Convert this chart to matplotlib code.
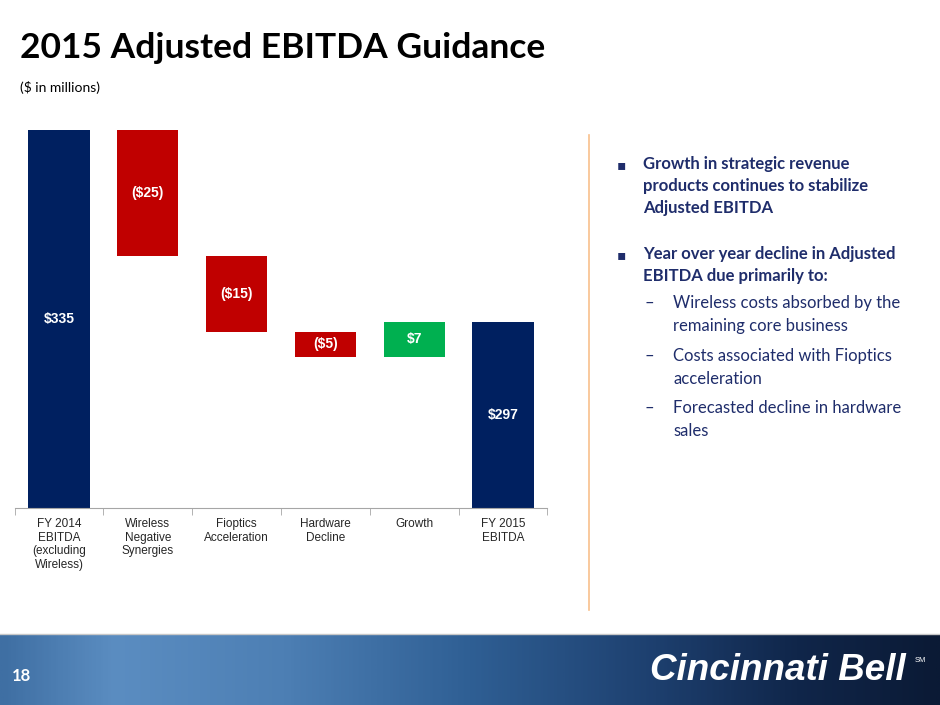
import matplotlib.pyplot as plt
import numpy as np
from matplotlib.colors import LinearSegmentedColormap
from matplotlib.lines import Line2D

# datos del grafico (millones de dolares)
categorias = ['FY 2014\nEBITDA\n(excluding\nWireless)', 'Wireless\nNegative\nSynergies',
              'Fioptics\nAcceleration', 'Hardware\nDecline', 'Growth', 'FY 2015\nEBITDA']
valores = [335, -25, -15, -5, 7, 297]
es_total = [True, False, False, False, False, True]
etiquetas = ['$335', '($25)', '($15)', '($5)', '$7', '$297']
base_eje = 260

vinetas = ['Growth in strategic revenue\nproducts continues to stabilize\nAdjusted EBITDA',
           'Year over year decline in Adjusted\nEBITDA due primarily to:']
sub_vinetas = ['Wireless costs absorbed by the\nremaining core business',
               'Costs associated with Fioptics\nacceleration',
               'Forecasted decline in hardware\nsales']

azul = '#002060'
rojo = '#c00000'
verde = '#00b050'
texto_azul = '#1f2d6b'

W, H = 940, 705
fig = plt.figure(figsize=(9.4, 7.05), dpi=100)

# calcular barras de cascada
bottoms, alturas, colores = [], [], []
acumulado = 0
for v, t in zip(valores, es_total):
    if t:
        bottoms.append(base_eje)
        alturas.append(v - base_eje)
        colores.append(azul)
        acumulado = v
    else:
        bottoms.append(acumulado + min(v, 0))
        alturas.append(abs(v))
        colores.append(rojo if v < 0 else verde)
        acumulado += v

x = np.arange(len(categorias))
ax = fig.add_axes([14.6 / W, (H - 508) / H, (547.4 - 14.6) / W, (508 - 130) / H])
ax.bar(x, alturas, bottom=bottoms, width=0.69, color=colores)
for xi, b, h, e in zip(x, bottoms, alturas, etiquetas):
    ax.text(xi, b + h / 2, e, ha='center', va='center', color='white',
            fontsize=10, fontweight='bold', family='Liberation Sans')

ax.set_xlim(-0.5, len(categorias) - 0.5)
ax.set_ylim(base_eje, valores[0])
ax.set_xticks(x)
ax.set_xticklabels(categorias, fontsize=8.5, family='Liberation Sans', color='#262626',
                   linespacing=1.2)
ax.set_xticks(np.arange(-0.5, len(categorias)), minor=True)
ax.tick_params(axis='x', which='major', length=0, pad=7)
ax.tick_params(axis='x', which='minor', length=5, color='#a6a6a6')
ax.set_yticks([])
for s in ['top', 'left', 'right']:
    ax.spines[s].set_visible(False)
ax.spines['bottom'].set_color('#a6a6a6')

# titulo
fig.text(20 / W, 1 - 48 / H, '2015 Adjusted EBITDA Guidance', fontsize=25.5, fontweight='bold',
         family='Lato', color='black', va='center')
fig.text(20 / W, 1 - 87 / H, '($ in millions)', fontsize=10, family='Lato', color='black',
         va='center')

# linea vertical naranja
fig.add_artist(Line2D([589 / W, 589 / W], [1 - 135 / H, 1 - 610 / H], color='#f8c08c', lw=1.2))

# texto derecho
y_vin = [156, 246]
for yv, t in zip(y_vin, vinetas):
    fig.text(617 / W, 1 - (yv + 9) / H, '▪', fontsize=10, color=texto_azul, va='center',
             family='DejaVu Sans')
    fig.text(643 / W, 1 - yv / H, t, fontsize=12, fontweight='bold', family='Lato',
             color=texto_azul, va='top', linespacing=1.48)
y_sub = [295, 348, 400]
for ys, t in zip(y_sub, sub_vinetas):
    fig.text(645 / W, 1 - ys / H, '–', fontsize=12, color=texto_azul, va='top', family='Lato')
    fig.text(673 / W, 1 - ys / H, t, fontsize=12, family='Lato', color=texto_azul,
             va='top', linespacing=1.5)

# pie de pagina con degradado
pie = fig.add_axes([0, 0, 1, (H - 634) / H])
cmap = LinearSegmentedColormap.from_list('pie', [
    (0.0, '#3f6fa3'), (0.12, '#5b8dc1'), (0.3, '#4d7fb4'), (0.5, '#2f5f94'),
    (0.7, '#1d3f6e'), (0.85, '#10264a'), (1.0, '#0b1a35')])
grad = np.linspace(0, 1, 400).reshape(1, -1)
pie.imshow(grad, aspect='auto', cmap=cmap, extent=[0, 1, 0, 1])
pie.set_axis_off()
fig.add_artist(Line2D([0, 1], [1 - 634 / H, 1 - 634 / H], color='#c8c8c8', lw=1))
fig.text(12 / W, 1 - 676 / H, '18', fontsize=12, fontweight='bold', color='white',
         va='center', family='Lato')
fig.text(650 / W, 1 - 670.5 / H, 'Cincinnati Bell', fontsize=26.5, fontweight='bold',
         style='italic', color='white', va='center', family='Liberation Sans')
fig.text(915 / W, 1 - 660 / H, 'SM', fontsize=5.5, color='white', va='center',
         family='Liberation Sans')

plt.savefig('out.png', dpi=100)
